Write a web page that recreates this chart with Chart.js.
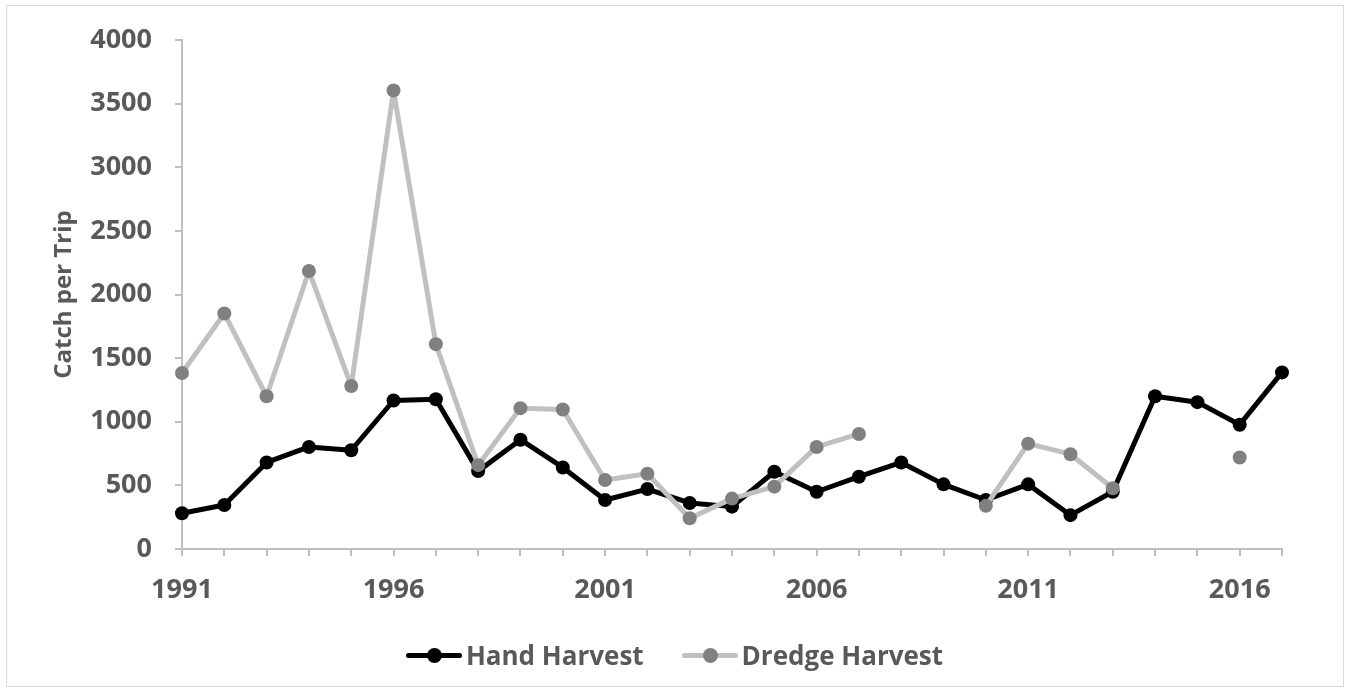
<!DOCTYPE html>
<html>
<head>
<meta charset="utf-8">
<script src="https://cdn.jsdelivr.net/npm/chart.js@4/dist/chart.umd.min.js"></script>
<style>
  body { margin: 0; background: #fff; font-family: "Open Sans", sans-serif; }
  #wrap { position: relative; width: 1349px; height: 691px; }
  #frame { position: absolute; left: 6px; top: 5px; width: 1336px; height: 680px; border: 1px solid #d9d9d9; }
  #c { position: absolute; left: 0; top: 0; }
  #legend { position: absolute; left: 0; width: 1349px; top: 637px; display: flex; justify-content: center; gap: 38px; }
  .item { display: flex; align-items: center; font-weight: 700; font-size: 26px; color: #595959; }
  .icon { position: relative; width: 56px; height: 34px; margin-right: 4px; }
  .icon .ln { position: absolute; left: 0; right: 0; top: 15px; height: 5px; border-radius: 3px; }
  .icon .dot { position: absolute; left: 21px; top: 10px; width: 15px; height: 15px; border-radius: 50%; }
</style>
</head>
<body>
<div id="wrap">
  <div id="frame"></div>
  <canvas id="c" width="1349" height="691"></canvas>
  <div id="legend"></div>
</div>
<script>
// Catch per trip, by year
const years = ['1991','1992','1993','1994','1995','1996','1997','1998','1999','2000',
  '2001','2002','2003','2004','2005','2006','2007','2008','2009','2010',
  '2011','2012','2013','2014','2015','2016','2017'];

const handHarvest = [281, 346, 680, 802, 776, 1167, 1177, 612, 859, 641,
  385, 471, 362, 333, 607, 450, 568, 680, 508, 385,
  508, 266, 450, 1200, 1154, 977, 1388];

const dredgeHarvest = [1383, 1851, 1200, 2185, 1281, 3604, 1610, 659, 1107, 1096,
  542, 591, 242, 396, 490, 802, 904, null, null, 339,
  828, 745, 477, null, null, 719, null];

const yTicks = [0, 500, 1000, 1500, 2000, 2500, 3000, 3500, 4000];

const txt = '#595959';
const axisCol = '#bfbfbf';

const ctx = document.getElementById('c').getContext('2d');
const chart = new Chart(ctx, {
    type: 'line',
    data: {
        labels: years,
        datasets: [{
            label: 'Hand Harvest',
            data: handHarvest,
            borderColor: '#000000',
            backgroundColor: '#000000',
            borderWidth: 5,
            pointRadius: 7,
            pointBackgroundColor: '#000000',
            pointBorderColor: '#000000',
            pointBorderWidth: 0,
            order: 2
        }, {
            label: 'Dredge Harvest',
            data: dredgeHarvest,
            borderColor: '#c0c0c0',
            backgroundColor: '#808080',
            borderWidth: 5,
            pointRadius: 7,
            pointBackgroundColor: '#808080',
            pointBorderColor: '#808080',
            pointBorderWidth: 0,
            spanGaps: false,
            order: 1
        }]
    },
    options: {
        responsive: false,
        devicePixelRatio: 1,
        animation: false,
        layout: { padding: { left: 0, right: 67, top: 40, bottom: 82 } },
        plugins: { legend: { display: false }, tooltip: { enabled: false } },
        elements: { line: { tension: 0, borderCapStyle: 'round', borderJoinStyle: 'round' } },
        scales: {
            x: {
                type: 'category',
                offset: false,
                grid: { drawOnChartArea: false, drawTicks: true, tickLength: 7, color: axisCol, lineWidth: 2 },
                border: { display: true, color: axisCol, width: 2 },
                ticks: {
                    autoSkip: false,
                    maxRotation: 0,
                    padding: 18,
                    color: txt,
                    font: { family: 'Open Sans', size: 27, weight: 'bold' },
                    callback: function(value, index) {
                        return index % 5 === 0 ? years[index] : '';
                    }
                },
                afterFit: function(scale) { scale.height = 60; }
            },
            y: {
                min: 0,
                max: 4000,
                afterBuildTicks: function(scale) {
                    scale.ticks = yTicks.map(v => ({ value: v }));
                },
                grid: { drawOnChartArea: false, drawTicks: true, tickLength: 7, color: axisCol, lineWidth: 2 },
                border: { display: true, color: axisCol, width: 2 },
                ticks: {
                    padding: 23,
                    color: txt,
                    font: { family: 'Open Sans', size: 27, weight: 'bold' },
                    callback: function(value) { return String(value); }
                },
                title: {
                    display: true,
                    text: 'Catch per Trip',
                    color: txt,
                    font: { family: 'Open Sans', size: 24, weight: 'bold' },
                    padding: { top: 50, bottom: 0 }
                },
                afterFit: function(scale) { scale.width = 182; }
            }
        }
    }
});

// Legend drawn as html below the canvas
const legendItems = [
    { name: 'Hand Harvest', line: '#000000', dot: '#000000' },
    { name: 'Dredge Harvest', line: '#c0c0c0', dot: '#808080' }
];
const legend = document.getElementById('legend');
legendItems.forEach(function(it) {
    const el = document.createElement('div');
    el.className = 'item';
    el.innerHTML = '<span class="icon"><span class="ln" style="background:' + it.line + '"></span>' +
        '<span class="dot" style="background:' + it.dot + '"></span></span>' + it.name;
    legend.appendChild(el);
});
</script>
</body>
</html>
